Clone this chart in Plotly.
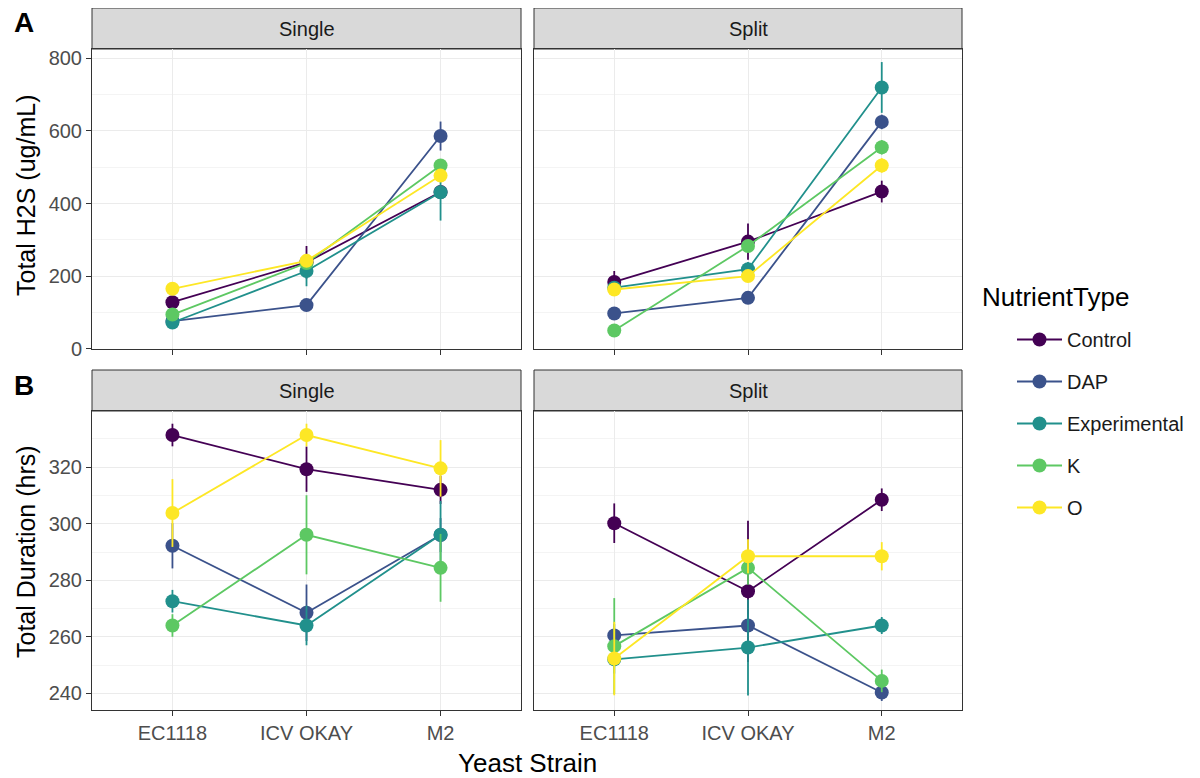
import plotly.graph_objects as go

strains = ["EC1118", "ICV OKAY", "M2"]
nutrients = ["Control", "DAP", "Experimental", "K", "O"]
colors = ["#440154", "#3B528B", "#21908C", "#5DC863", "#FDE725"]

# Panel A: Total H2S (ug/mL)
h2s_single = {
    "Control": [128, 238, 432],
    "DAP": [76, 120, 586],
    "Experimental": [72, 214, 431],
    "K": [94, 236, 505],
    "O": [165, 242, 477],
}
h2s_single_err = {
    "Control": [10, 45, 15],
    "DAP": [8, 10, 40],
    "Experimental": [8, 42, 78],
    "K": [8, 15, 15],
    "O": [8, 15, 12],
}
h2s_split = {
    "Control": [184, 295, 433],
    "DAP": [97, 140, 625],
    "Experimental": [168, 219, 720],
    "K": [50, 283, 555],
    "O": [163, 200, 505],
}
h2s_split_err = {
    "Control": [30, 50, 30],
    "DAP": [8, 10, 20],
    "Experimental": [10, 20, 70],
    "K": [8, 15, 20],
    "O": [10, 15, 20],
}

# Panel B: Total Duration (hrs)
dur_single = {
    "Control": [331.4, 319.3, 312.0],
    "DAP": [292.2, 268.5, 296.0],
    "Experimental": [272.6, 264.0, 296.1],
    "K": [264.0, 296.1, 284.4],
    "O": [303.8, 331.4, 319.6],
}
dur_single_err = {
    "Control": [4, 8, 5],
    "DAP": [8, 10, 6],
    "Experimental": [4, 7, 12],
    "K": [4, 14, 12],
    "O": [12, 4, 10],
}
dur_split = {
    "Control": [300.2, 276.1, 308.5],
    "DAP": [260.5, 264.0, 240.3],
    "Experimental": [252.0, 256.2, 264.0],
    "K": [256.7, 284.4, 244.4],
    "O": [252.3, 288.5, 288.5],
}
dur_split_err = {
    "Control": [7, 25, 4],
    "DAP": [4, 4, 3],
    "Experimental": [5, 17, 3],
    "K": [17, 6, 4],
    "O": [13, 6, 5],
}

# The page body has an 8px default margin; size the figure to fill the window.
OFF = 8
W, H = 1200 - OFF, 778 - OFF
FONT = "Arial, Liberation Sans, sans-serif"

def px_x(p):
    return (p - OFF) / W

def px_y(p):
    return 1 - (p - OFF) / H

# panel pixel geometry (screen coordinates)
LX = (92, 521)
RX = (534, 962)
TOP_Y = (49, 349)
TOP_STRIP = (8, 49)
BOT_Y = (411, 710)
BOT_STRIP = (370, 411)

fig = go.Figure()

panels = [
    ("x", "y", h2s_single, h2s_single_err, True),
    ("x2", "y2", h2s_split, h2s_split_err, False),
    ("x3", "y3", dur_single, dur_single_err, False),
    ("x4", "y4", dur_split, dur_split_err, False),
]

for xa, ya, data, err, show in panels:
    for i, n in enumerate(nutrients):
        fig.add_trace(go.Scatter(
            x=strains, y=data[n], xaxis=xa, yaxis=ya,
            mode="lines+markers", name=n, legendgroup=n, showlegend=show,
            line=dict(color=colors[i], width=1.8),
            marker=dict(color=colors[i], size=14),
            error_y=dict(type="data", array=err[n], width=0, thickness=1.8, color=colors[i]),
        ))

grid_major = "#EBEBEB"
grid_minor = "#F4F4F4"

def xaxis_cfg(dom, labels, anchor):
    return dict(
        domain=dom, anchor=anchor, type="category", categoryorder="array", categoryarray=strains,
        range=[-0.6, 2.6], showgrid=True, gridcolor=grid_major, gridwidth=1,
        showline=True, mirror=True, linecolor="#333333", linewidth=1,
        ticks="outside", ticklen=5, tickcolor="#333333", tickwidth=1,
        showticklabels=labels, tickfont=dict(family=FONT, size=20, color="#4D4D4D"),
        zeroline=False, fixedrange=True, automargin=False,
    )

def yaxis_cfg(dom, rng, dtick, tick0, minor_tick0, labels, anchor):
    return dict(
        domain=dom, anchor=anchor, range=rng, dtick=dtick, tick0=tick0,
        showgrid=True, gridcolor=grid_major, gridwidth=1,
        minor=dict(dtick=dtick, tick0=minor_tick0, showgrid=True,
                   gridcolor=grid_minor, gridwidth=0.8, ticks=""),
        showline=True, mirror=True, linecolor="#333333", linewidth=1,
        ticks="outside" if labels else "", ticklen=5, tickcolor="#333333", tickwidth=1,
        showticklabels=labels, tickfont=dict(family=FONT, size=20, color="#4D4D4D"),
        zeroline=False, fixedrange=True, automargin=False,
    )

top_dom = [px_y(TOP_Y[1]), px_y(TOP_Y[0])]
bot_dom = [px_y(BOT_Y[1]), px_y(BOT_Y[0])]
ldom = [px_x(LX[0]), px_x(LX[1])]
rdom = [px_x(RX[0]), px_x(RX[1])]

top_rng = [-1, 826]
bot_rng = [234.1, 339.9]

fig.update_layout(
    width=W, height=H, margin=dict(l=0, r=0, t=0, b=0, autoexpand=False),
    paper_bgcolor="white", plot_bgcolor="white",
    xaxis=xaxis_cfg(ldom, False, "y"),
    xaxis2=xaxis_cfg(rdom, False, "y2"),
    xaxis3=xaxis_cfg(ldom, True, "y3"),
    xaxis4=xaxis_cfg(rdom, True, "y4"),
    yaxis=yaxis_cfg(top_dom, top_rng, 200, 0, 100, True, "x"),
    yaxis2=yaxis_cfg(top_dom, top_rng, 200, 0, 100, False, "x2"),
    yaxis3=yaxis_cfg(bot_dom, bot_rng, 20, 240, 250, True, "x3"),
    yaxis4=yaxis_cfg(bot_dom, bot_rng, 20, 240, 250, False, "x4"),
    showlegend=True,
    legend=dict(
        x=px_x(1012), y=px_y(320), xanchor="left", yanchor="top",
        font=dict(family=FONT, size=20, color="#1A1A1A"),
        tracegroupgap=13, traceorder="grouped", itemwidth=45,
        bgcolor="rgba(0,0,0,0)", title=dict(text=""),
    ),
)

shapes = []
annotations = []
for (x0, x1), (s0, s1), label in [
    (LX, TOP_STRIP, "Single"), (RX, TOP_STRIP, "Split"),
    (LX, BOT_STRIP, "Single"), (RX, BOT_STRIP, "Split"),
]:
    shapes.append(dict(type="rect", xref="paper", yref="paper",
                       x0=px_x(x0), x1=px_x(x1), y0=px_y(s1), y1=px_y(s0),
                       fillcolor="#D9D9D9", line=dict(color="#333333", width=1), layer="below"))
    annotations.append(dict(text=label, xref="paper", yref="paper",
                            x=px_x((x0 + x1) / 2), y=px_y((s0 + s1) / 2),
                            xanchor="center", yanchor="middle", showarrow=False,
                            font=dict(family=FONT, size=20, color="#1A1A1A")))

annotations += [
    dict(text="<b>A</b>", xref="paper", yref="paper", x=px_x(24), y=px_y(22),
         xanchor="center", yanchor="middle", showarrow=False,
         font=dict(family=FONT, size=28, color="black")),
    dict(text="<b>B</b>", xref="paper", yref="paper", x=px_x(24), y=px_y(385),
         xanchor="center", yanchor="middle", showarrow=False,
         font=dict(family=FONT, size=28, color="black")),
    dict(text="Total H2S (ug/mL)", xref="paper", yref="paper", x=px_x(26), y=px_y(196),
         xanchor="center", yanchor="middle", showarrow=False, textangle=-90,
         font=dict(family=FONT, size=25, color="black")),
    dict(text="Total Duration (hrs)", xref="paper", yref="paper", x=px_x(26), y=px_y(552),
         xanchor="center", yanchor="middle", showarrow=False, textangle=-90,
         font=dict(family=FONT, size=25, color="black")),
    dict(text="Yeast Strain", xref="paper", yref="paper", x=px_x(527), y=px_y(763),
         xanchor="center", yanchor="middle", showarrow=False,
         font=dict(family=FONT, size=26, color="black")),
    dict(text="NutrientType", xref="paper", yref="paper", x=px_x(980), y=px_y(297),
         xanchor="left", yanchor="middle", showarrow=False,
         font=dict(family=FONT, size=26, color="black")),
]

fig.update_layout(shapes=shapes, annotations=annotations)
fig.write_html("out.html")
